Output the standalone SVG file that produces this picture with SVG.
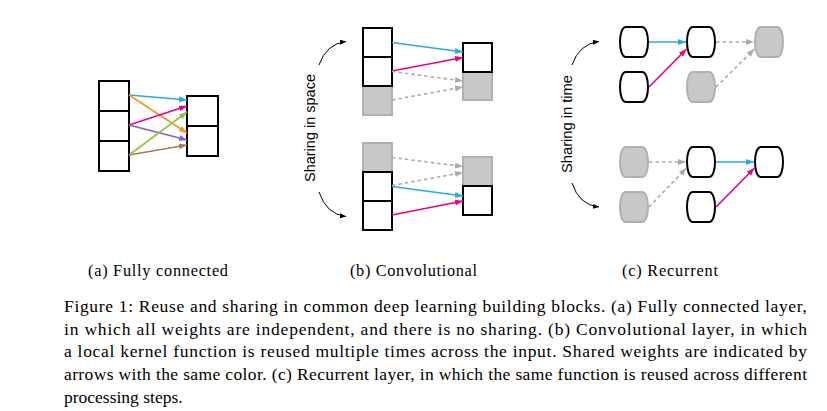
<svg xmlns="http://www.w3.org/2000/svg" width="827" height="411" viewBox="0 0 827 411">
<style>
.bx{fill:#fff;stroke:#000;stroke-width:2}
.gb{fill:#c8c8c8;stroke:#b0b0b0;stroke-width:2}
.ln{fill:none;stroke-width:1.6}
.dash{fill:none;stroke:#aaaaaa;stroke-width:1.6;stroke-dasharray:3.5,3}
.crv{fill:none;stroke:#000;stroke-width:1}
.lbl{font-family:"Liberation Sans",Arial,sans-serif;font-size:14px;fill:#000}
.cap{font-family:"Liberation Serif","Times New Roman",serif;font-size:17.5px;fill:#000}
.sub{font-family:"Liberation Serif","Times New Roman",serif;font-size:16.3px;fill:#000}
</style>
<defs>
<marker id="mB" markerUnits="userSpaceOnUse" markerWidth="9" markerHeight="7" refX="8" refY="3" orient="auto"><path d="M0,0 L8,3 L0,6 z" fill="#29abe2"/></marker>
<marker id="mP" markerUnits="userSpaceOnUse" markerWidth="9" markerHeight="7" refX="8" refY="3" orient="auto"><path d="M0,0 L8,3 L0,6 z" fill="#ec008c"/></marker>
<marker id="mO" markerUnits="userSpaceOnUse" markerWidth="9" markerHeight="7" refX="8" refY="3" orient="auto"><path d="M0,0 L8,3 L0,6 z" fill="#f7931e"/></marker>
<marker id="mV" markerUnits="userSpaceOnUse" markerWidth="9" markerHeight="7" refX="8" refY="3" orient="auto"><path d="M0,0 L8,3 L0,6 z" fill="#8c5cc8"/></marker>
<marker id="mG" markerUnits="userSpaceOnUse" markerWidth="9" markerHeight="7" refX="8" refY="3" orient="auto"><path d="M0,0 L8,3 L0,6 z" fill="#8cc63f"/></marker>
<marker id="mR" markerUnits="userSpaceOnUse" markerWidth="9" markerHeight="7" refX="8" refY="3" orient="auto"><path d="M0,0 L8,3 L0,6 z" fill="#a67c52"/></marker>
<marker id="mA" markerUnits="userSpaceOnUse" markerWidth="9" markerHeight="7" refX="8" refY="3" orient="auto"><path d="M0,0 L8,3 L0,6 z" fill="#aaaaaa"/></marker>
<marker id="mK" markerUnits="userSpaceOnUse" markerWidth="7" markerHeight="6" refX="6" refY="2.5" orient="auto"><path d="M0,0 L6,2.5 L0,5 z" fill="#000"/></marker>
<path id="cyl" d="M7,0 H23 C31,0 31,30 23,30 H7 C-1,30 -1,0 7,0 Z"/>
</defs>

<!-- (a) Fully connected -->
<g id="fc-in1"><rect class="bx" x="99" y="81" width="30" height="30"/></g>
<g id="fc-in2"><rect class="bx" x="99" y="111" width="30" height="30"/></g>
<g id="fc-in3"><rect class="bx" x="99" y="141" width="30" height="30"/></g>
<g id="fc-out1"><rect class="bx" x="187" y="96" width="31" height="30"/></g>
<g id="fc-out2"><rect class="bx" x="187" y="126" width="31" height="30"/></g>

<!-- (b) Convolutional -->
<g id="cv-top-in3"><rect class="gb" x="363" y="86" width="29" height="29"/></g>
<g id="cv-top-in1"><rect class="bx" x="363" y="28" width="29" height="29"/></g>
<g id="cv-top-in2"><rect class="bx" x="363" y="57" width="29" height="29"/></g>
<g id="cv-top-out2"><rect class="gb" x="463" y="72" width="29" height="28"/></g>
<g id="cv-top-out1"><rect class="bx" x="463" y="43" width="29" height="29"/></g>
<g id="cv-bot-in1"><rect class="gb" x="363" y="143" width="29" height="29"/></g>
<g id="cv-bot-in2"><rect class="bx" x="363" y="172" width="29" height="29"/></g>
<g id="cv-bot-in3"><rect class="bx" x="363" y="201" width="29" height="29"/></g>
<g id="cv-bot-out1"><rect class="gb" x="463" y="157" width="29" height="29"/></g>
<g id="cv-bot-out2"><rect class="bx" x="463" y="186" width="29" height="29"/></g>
<g id="cv-label"><text class="lbl" transform="translate(314.5,128) rotate(-90)" text-anchor="middle" textLength="108" lengthAdjust="spacingAndGlyphs">Sharing in space</text></g>

<!-- (c) Recurrent -->
<g id="rc-top-a"><use href="#cyl" class="bx" x="619" y="27"/></g>
<g id="rc-top-b"><use href="#cyl" class="bx" x="686" y="27"/></g>
<g id="rc-top-c"><use href="#cyl" class="gb" x="754" y="27"/></g>
<g id="rc-top-d"><use href="#cyl" class="bx" x="619" y="72"/></g>
<g id="rc-top-e"><use href="#cyl" class="gb" x="686" y="72"/></g>
<g id="rc-bot-a"><use href="#cyl" class="gb" x="619" y="147"/></g>
<g id="rc-bot-b"><use href="#cyl" class="bx" x="686" y="147"/></g>
<g id="rc-bot-c"><use href="#cyl" class="bx" x="754" y="147"/></g>
<g id="rc-bot-d"><use href="#cyl" class="gb" x="619" y="192"/></g>
<g id="rc-bot-e"><use href="#cyl" class="bx" x="686" y="192"/></g>
<g id="rc-label"><text class="lbl" transform="translate(572,124) rotate(-90)" text-anchor="middle" textLength="98" lengthAdjust="spacingAndGlyphs">Sharing in time</text></g>

<g id="connectors">
<!-- (a) -->
<line class="ln" stroke="#29abe2" x1="129" y1="95" x2="187" y2="100" marker-end="url(#mB)"/>
<line class="ln" stroke="#f7931e" x1="129" y1="95" x2="187" y2="133" marker-end="url(#mO)"/>
<line class="ln" stroke="#ec008c" x1="129" y1="125" x2="187" y2="106" marker-end="url(#mP)"/>
<line class="ln" stroke="#8c5cc8" x1="129" y1="125" x2="187" y2="140" marker-end="url(#mV)"/>
<line class="ln" stroke="#8cc63f" x1="129" y1="155" x2="187" y2="112" marker-end="url(#mG)"/>
<line class="ln" stroke="#a67c52" x1="129" y1="155" x2="187" y2="145" marker-end="url(#mR)"/>
<!-- (b) top -->
<line class="ln" stroke="#29abe2" x1="392" y1="42.5" x2="463" y2="52" marker-end="url(#mB)"/>
<line class="ln" stroke="#ec008c" x1="392" y1="71" x2="463" y2="57.5" marker-end="url(#mP)"/>
<line class="dash" x1="392" y1="71.5" x2="463" y2="81" marker-end="url(#mA)"/>
<line class="dash" x1="392" y1="100" x2="463" y2="87" marker-end="url(#mA)"/>
<!-- (b) bottom -->
<line class="dash" x1="392" y1="157.5" x2="463" y2="166.5" marker-end="url(#mA)"/>
<line class="dash" x1="392" y1="185.5" x2="463" y2="172.5" marker-end="url(#mA)"/>
<line class="ln" stroke="#29abe2" x1="392" y1="186.5" x2="463" y2="196" marker-end="url(#mB)"/>
<line class="ln" stroke="#ec008c" x1="392" y1="215" x2="463" y2="201" marker-end="url(#mP)"/>
<path class="crv" d="M319,65 Q326,44 346,41.5" marker-end="url(#mK)"/>
<path class="crv" d="M319,192 Q326,214 346,216.5" marker-end="url(#mK)"/>
<!-- (c) top -->
<line class="ln" stroke="#29abe2" x1="649" y1="42" x2="686" y2="42" marker-end="url(#mB)"/>
<line class="ln" stroke="#ec008c" x1="649" y1="87" x2="686.5" y2="49" marker-end="url(#mP)"/>
<line class="dash" x1="716" y1="42" x2="754" y2="42" marker-end="url(#mA)"/>
<line class="dash" x1="716" y1="87" x2="754.5" y2="49" marker-end="url(#mA)"/>
<!-- (c) bottom -->
<line class="dash" x1="649" y1="162" x2="686" y2="162" marker-end="url(#mA)"/>
<line class="dash" x1="649" y1="207" x2="686.5" y2="168" marker-end="url(#mA)"/>
<line class="ln" stroke="#29abe2" x1="716" y1="162" x2="754" y2="162" marker-end="url(#mB)"/>
<line class="ln" stroke="#ec008c" x1="716" y1="207" x2="754.5" y2="168" marker-end="url(#mP)"/>
<path class="crv" d="M572,65 Q579,44 599,41.5" marker-end="url(#mK)"/>
<path class="crv" d="M572,183 Q579,205 599,207" marker-end="url(#mK)"/>
</g>

<!-- sub-captions -->
<text class="sub" x="88" y="276" textLength="140">(a) Fully connected</text>
<text class="sub" x="350" y="276" textLength="127">(b) Convolutional</text>
<text class="sub" x="622" y="276" textLength="96">(c) Recurrent</text>

<!-- caption -->
<text class="cap" x="64" y="312" textLength="743">Figure 1: Reuse and sharing in common deep learning building blocks. (a) Fully connected layer,</text>
<text class="cap" x="64" y="334.7" textLength="743">in which all weights are independent, and there is no sharing. (b) Convolutional layer, in which</text>
<text class="cap" x="64" y="357.4" textLength="743">a local kernel function is reused multiple times across the input. Shared weights are indicated by</text>
<text class="cap" x="64" y="380.1" textLength="743">arrows with the same color. (c) Recurrent layer, in which the same function is reused across different</text>
<text class="cap" x="64" y="402.8">processing steps.</text>
</svg>
